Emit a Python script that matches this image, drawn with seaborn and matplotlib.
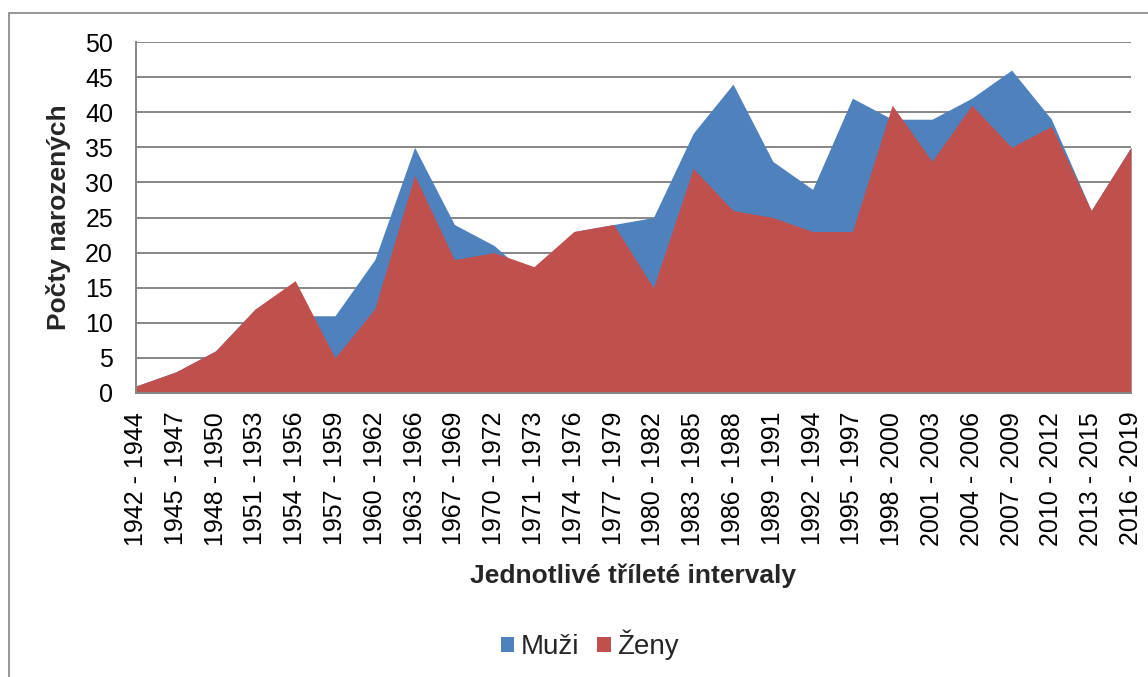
import numpy as np
import pandas as pd
import matplotlib
matplotlib.use("Agg")
import matplotlib.pyplot as plt
import seaborn as sns
from matplotlib.patches import Rectangle, Patch

# three-year intervals and births per interval
intervals = [
    '1942 - 1944', '1945 - 1947', '1948 - 1950', '1951 - 1953', '1954 - 1956',
    '1957 - 1959', '1960 - 1962', '1963 - 1966', '1967 - 1969', '1970 - 1972',
    '1971 - 1973', '1974 - 1976', '1977 - 1979', '1980 - 1982', '1983 - 1985',
    '1986 - 1988', '1989 - 1991', '1992 - 1994', '1995 - 1997', '1998 - 2000',
    '2001 - 2003', '2004 - 2006', '2007 - 2009', '2010 - 2012', '2013 - 2015',
    '2016 - 2019',
]
muzi = [1, 3, 6, 12, 11, 11, 19, 35, 24, 21, 16, 23, 24, 25, 37, 44, 33, 29, 42, 39,
        39, 42, 46, 39, 26, 35]
zeny = [1, 3, 6, 12, 16, 5, 12, 31, 19, 20, 18, 23, 24, 15, 32, 26, 25, 23, 23, 41,
        33, 41, 35, 38, 26, 35]

series_names = ['Muži', 'Ženy']
colors = {'Muži': '#4F81BD', 'Ženy': '#C0504D'}
grid_col = '#868686'

df = pd.DataFrame({
    'interval': intervals * 2,
    'pocet': muzi + zeny,
    'pohlavi': ['Muži'] * len(muzi) + ['Ženy'] * len(zeny),
})

sns.set_style('white')
plt.rcParams['font.family'] = ['Liberation Sans', 'DejaVu Sans']

W, H = 1148, 677
fig = plt.figure(figsize=(W / 100, H / 100), dpi=100)
# plot area in pixels: x 136..1131, y 42..393
ax = fig.add_axes([136 / W, 1 - 393 / H, (1131 - 136) / W, (393 - 42) / H])

sns.lineplot(data=df, x='interval', y='pocet', hue='pohlavi', hue_order=series_names,
             palette=colors, linewidth=0, legend=False, ax=ax, sort=False)

# overlapping areas: men behind, women in front
x = np.arange(len(intervals))
for i, name in enumerate(series_names):
    vals = df.loc[df['pohlavi'] == name, 'pocet'].to_numpy()
    ax.fill_between(x, 0, vals, color=colors[name], linewidth=0, zorder=2 + i)

ax.set_xlim(0, len(intervals) - 1)
ax.set_ylim(0, 50)
ax.set_yticks(range(0, 51, 5))
ax.set_xticks(x)
ax.set_xticklabels(intervals, rotation=90)
ax.yaxis.grid(True, color=grid_col, linewidth=1.4, zorder=0)
ax.set_axisbelow(True)

for side in ['top', 'right']:
    ax.spines[side].set_visible(False)
for side in ['left', 'bottom']:
    ax.spines[side].set_color(grid_col)
    ax.spines[side].set_linewidth(1.4)
    ax.spines[side].set_zorder(5)

ax.tick_params(axis='both', direction='out', length=5.5, width=1.4, color=grid_col,
               labelsize=18, labelcolor='black')
ax.tick_params(axis='y', pad=11)
ax.tick_params(axis='x', pad=8)

ax.set_xlabel('Jednotlivé tříleté intervaly', fontsize=19, fontweight='bold')
ax.set_ylabel('Počty narozených', fontsize=19, fontweight='bold')
ax.yaxis.set_label_coords((71 - 136) / (1131 - 136), 0.5)
ax.xaxis.set_label_coords(0.5, -(564 - 393) / (393 - 42))

handles = [Patch(facecolor=colors[n], edgecolor='none', label=n) for n in series_names]
fig.legend(handles=handles, loc='center', bbox_to_anchor=(590 / W, 1 - 645 / H),
           ncol=2, frameon=False, fontsize=20, handlelength=0.47, handleheight=0.47,
           handletextpad=0.25, columnspacing=0.65)

# outer chart frame (only left/top visible in the reference crop)
fig.patches.append(Rectangle((9 / W, -0.1), 1.2, 1 - 13 / H + 0.1,
                             transform=fig.transFigure, fill=False,
                             edgecolor=grid_col, linewidth=1.2))

fig.savefig('out.png', dpi=100)
